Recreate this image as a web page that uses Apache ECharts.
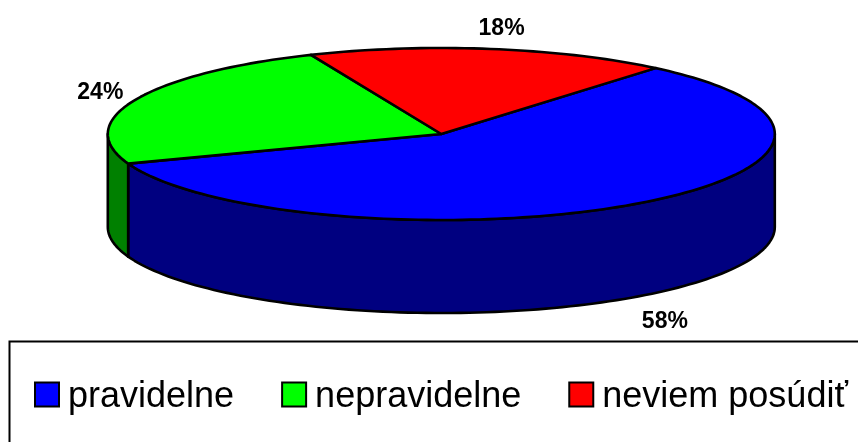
<!DOCTYPE html>
<html>
<head>
<meta charset="utf-8">
<style>html,body{margin:0;padding:0;background:#fff}#c{width:858px;height:442px}</style>
<script src="https://cdn.jsdelivr.net/npm/echarts@6/dist/echarts.min.js"></script>
</head>
<body>
<div id="c"></div>
<script>
const categories = ['pravidelne', 'nepravidelne', 'neviem posúdiť'];
const values = [58.3, 24.2, 17.5];
const topColors = ['#0000ff', '#00ff00', '#ff0000'];
const wallColors = ['#000080', '#008000', '#800000'];

// Pie geometry
const CX = 441.3, CY = 134, RX = 333.5, RY = 86, DEPTH = 93;
const BLUE_END_ANGLE = 50;           // slices run clockwise; order of drawing below
const labelOffsets = [[32, 24], [-35, -7], [11, -20]];

const total = values.reduce((a, b) => a + b, 0);
// angles on the ellipse, degrees, counter-clockwise from east:
// neviem posúdiť starts at 50°, then nepravidelne, then pravidelne back to 50°+360°
function sliceRange(i) {
  const order = [2, 1, 0];
  let a = BLUE_END_ANGLE;
  for (const k of order) {
    const span = values[k] / total * 360;
    if (k === i) return [a, a + span];
    a += span;
  }
}
function pt(deg, dy) {
  const r = deg * Math.PI / 180;
  return [CX + RX * Math.cos(r), CY - RY * Math.sin(r) + (dy || 0)];
}
function arc(a0, a1, dy) {
  const n = Math.max(2, Math.ceil(Math.abs(a1 - a0) / 1.5));
  const out = [];
  for (let i = 0; i <= n; i++) out.push(pt(a0 + (a1 - a0) * i / n, dy));
  return out;
}
const lineStyle = { stroke: '#000', lineWidth: 2.6, lineJoin: 'round' };

function renderSlice(params, api) {
  const i = params.seriesIndex;
  const [a0, a1] = sliceRange(i);
  const children = [];
  // front wall: the part of the slice on the lower half of the ellipse
  for (const shift of [0, 360]) {
    const w0 = Math.max(a0, 180 + shift), w1 = Math.min(a1, 360 + shift);
    if (w1 > w0) {
      const top = arc(w0, w1, 0), bottom = arc(w1, w0, DEPTH);
      children.push({
        type: 'polygon',
        shape: { points: top.concat(bottom) },
        style: Object.assign({ fill: wallColors[i] }, lineStyle)
      });
    }
  }
  children.push({
    type: 'polygon',
    shape: { points: [[CX, CY]].concat(arc(a0, a1, 0)) },
    style: Object.assign({ fill: topColors[i] }, lineStyle)
  });
  const mid = pt((a0 + a1) / 2, (a0 + a1) / 2 % 360 > 180 ? DEPTH : 0);
  children.push({
    type: 'text',
    x: mid[0] + labelOffsets[i][0],
    y: mid[1] + labelOffsets[i][1],
    style: {
      text: Math.round(api.value(0)) + '%',
      fontFamily: 'Liberation Sans',
      fontWeight: 'bold',
      fontSize: 23,
      fill: '#000',
      align: 'center',
      verticalAlign: 'middle'
    }
  });
  return { type: 'group', children };
}

const chart = echarts.init(document.getElementById('c'), null, { renderer: 'canvas' });
chart.setOption({
  animation: false,
  backgroundColor: '#fff',
  graphic: [{
    type: 'rect',
    z: -1,
    shape: { x: 9.5, y: 341.5, width: 900, height: 150 },
    style: { fill: '#fff', stroke: '#000', lineWidth: 2 }
  }],
  legend: {
    left: 34,
    top: 379,
    padding: 0,
    orient: 'horizontal',
    icon: 'rect',
    itemWidth: 24,
    itemHeight: 24,
    itemGap: 47,
    selectedMode: false,
    data: categories,
    itemStyle: { borderColor: '#000', borderWidth: 2 },
    formatter: '{t|{name}}',
    textStyle: {
      fontFamily: 'Liberation Sans', fontSize: 36, color: '#000',
      rich: { t: { fontFamily: 'Liberation Sans', fontSize: 36, color: '#000', padding: [5, 0, 0, 4] } }
    }
  },
  series: categories.map((name, i) => ({
    type: 'custom',
    name,
    coordinateSystem: 'none',
    itemStyle: { color: topColors[i] },
    renderItem: renderSlice,
    data: [[values[i]]],
    silent: true
  }))
});
</script>
</body>
</html>
